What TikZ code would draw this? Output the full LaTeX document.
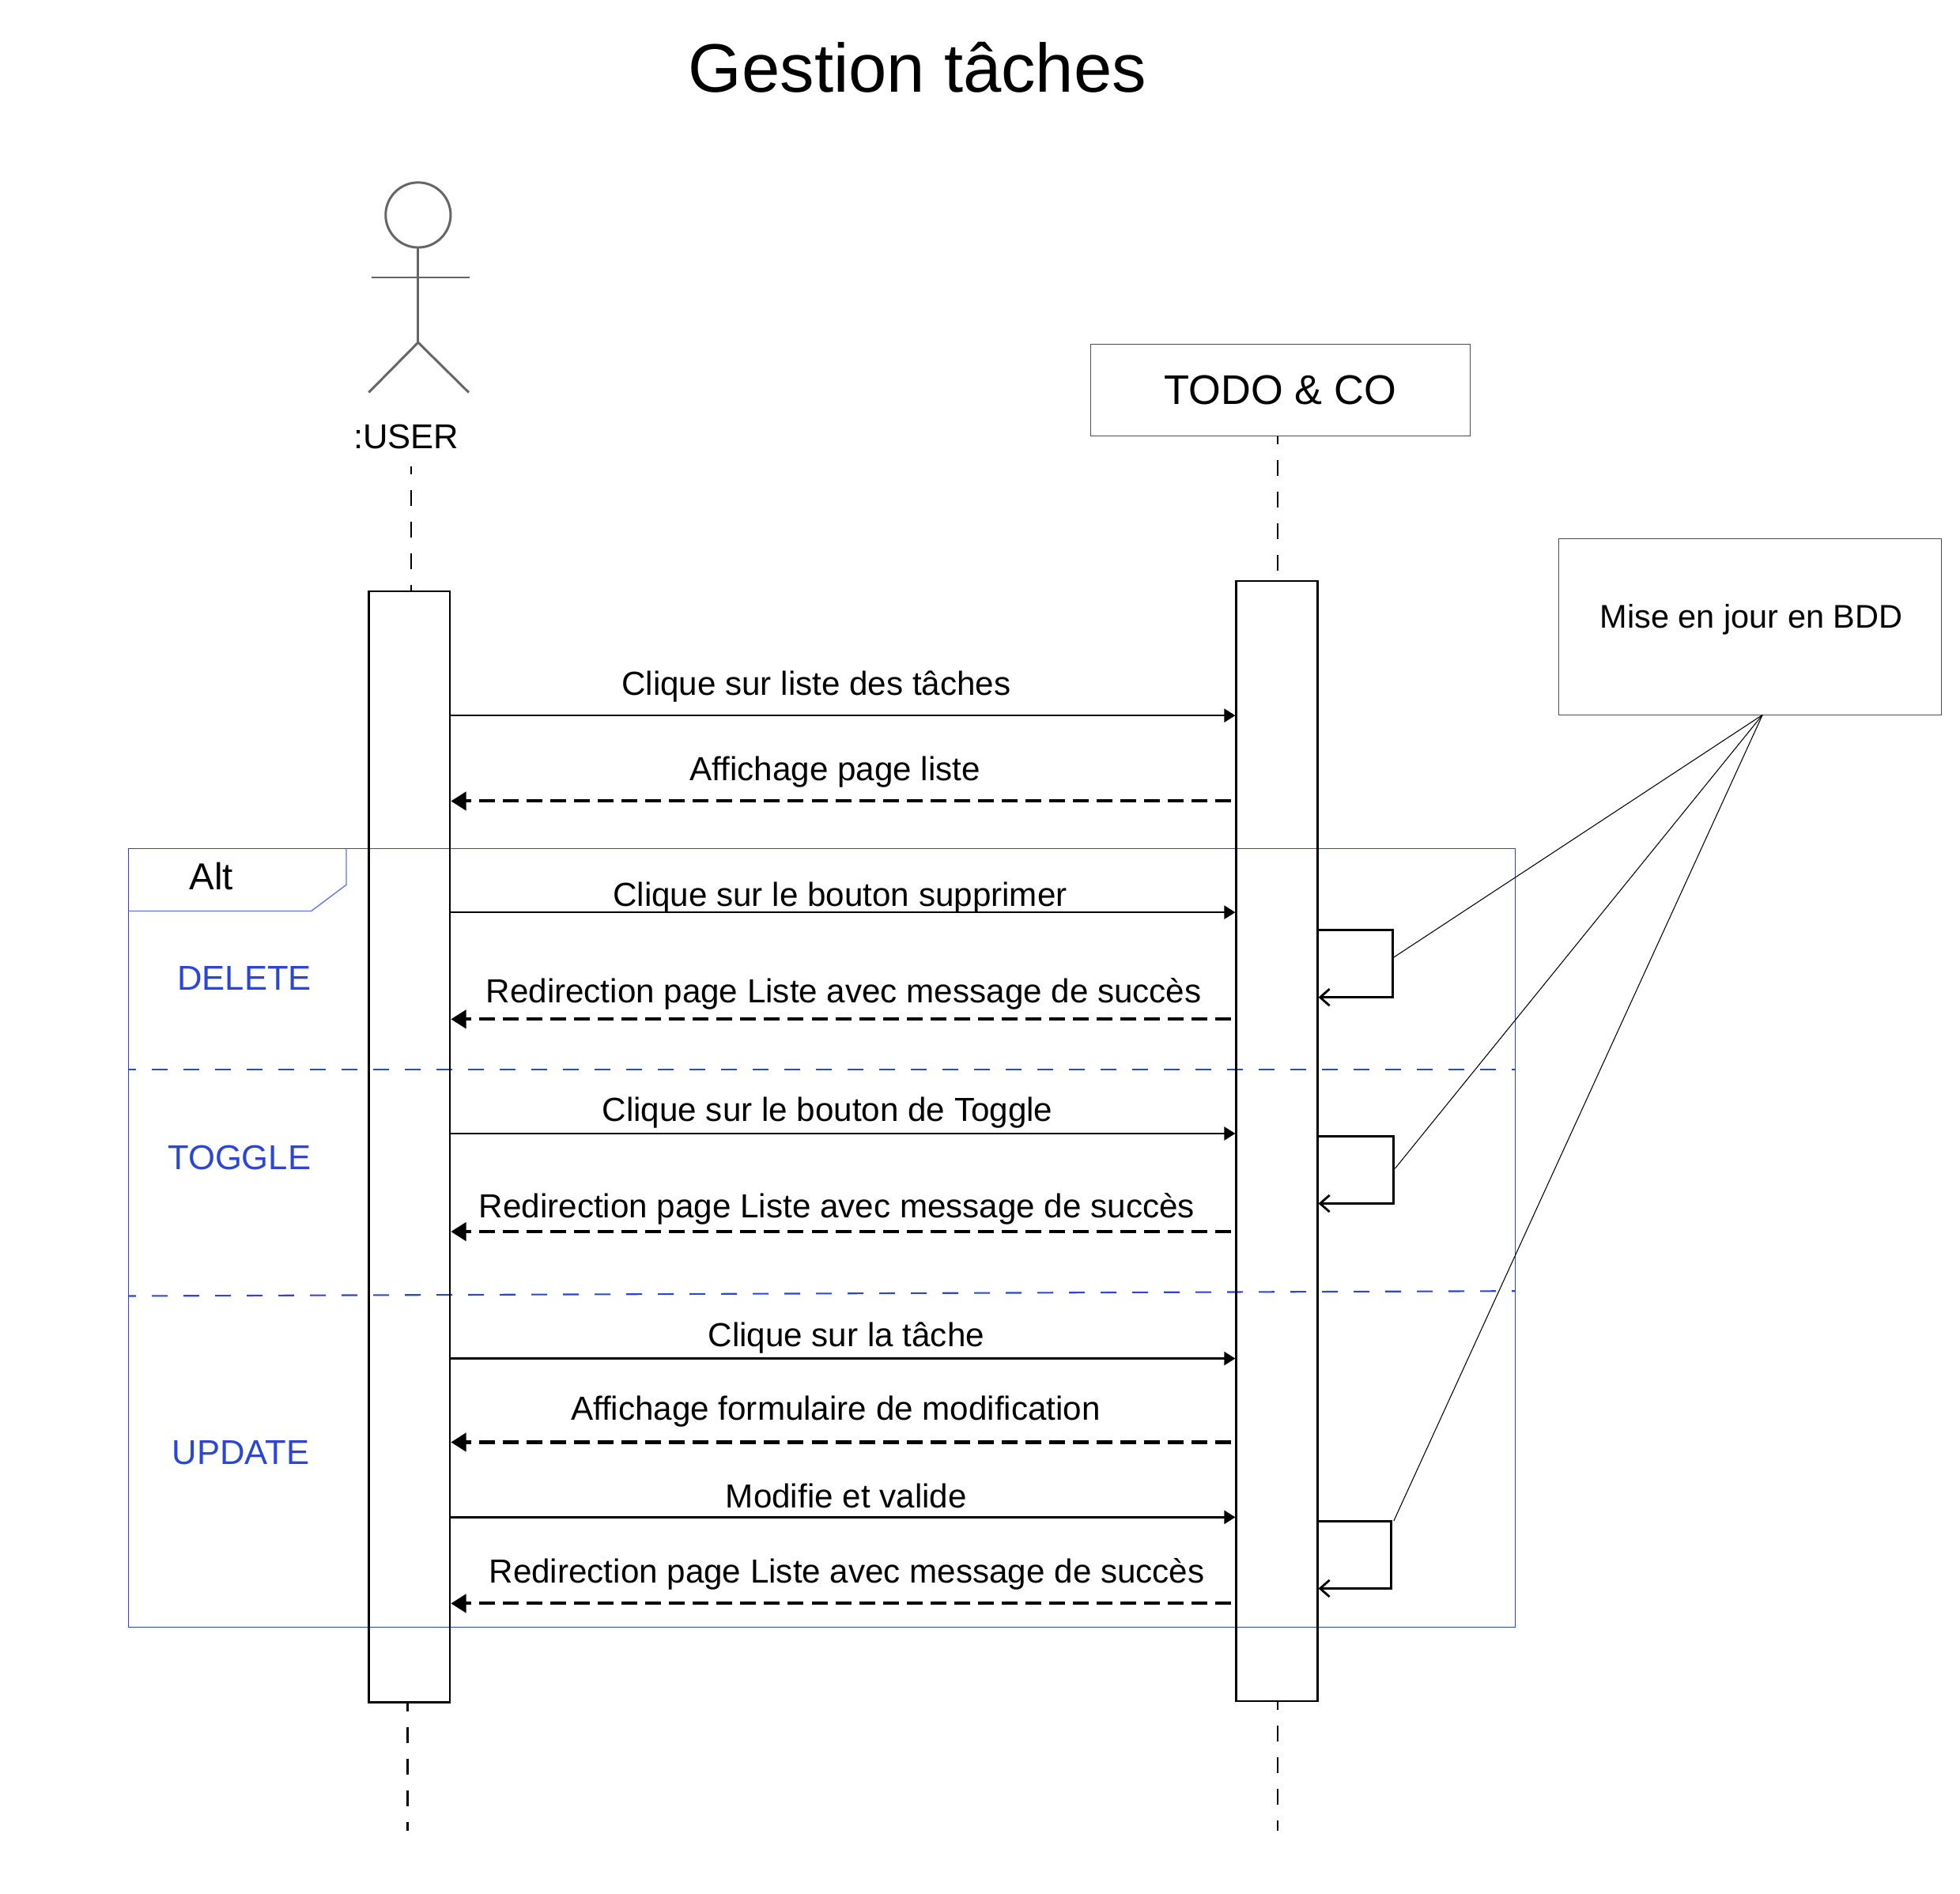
\documentclass[tikz,border=0pt]{standalone}
\usepackage{fontspec}
\setmainfont{Liberation Sans}
\usetikzlibrary{arrows.meta}
\definecolor{altblue}{HTML}{2A45D8}
\tikzset{
  bar/.style={draw=black, line width=0.65pt},
  lifeline/.style={black, line width=0.7pt, dash pattern=on 5.69pt off 5.69pt, dash phase=2.85pt},
  altsep/.style={altblue, line width=0.6pt, dash pattern=on 5.69pt off 5.69pt, dash phase=2.85pt},
  box/.style={draw=black!70, line width=0.4pt},
  msgtext/.style={font=\fontsize{12}{14}\selectfont, inner sep=0pt, yshift=-0.9pt},
  bluetext/.style={font=\fontsize{12.4}{15}\selectfont, text=altblue, inner sep=0pt},
  call/.style={line width=0.75pt, -{Triangle[length=4pt,width=4.8pt]}},
  reply/.style={line width=1.15pt, dash pattern=on 5.69pt off 2.85pt, -{Triangle[length=5.5pt,width=6.6pt]}},
  selfcall/.style={line width=0.8pt, -{Straight Barb[length=3.4pt,width=6pt]}},
  noteline/.style={line width=0.3pt},
  actor/.style={black!60, line width=0.85pt}
}
\begin{document}
\begin{tikzpicture}[x=0.01581cm,y=-0.01581cm]
  \useasboundingbox (0,0) rectangle (1568,1515);

  % Titre
  \node[inner sep=0pt, font=\fontsize{24.7}{28}\selectfont] (title) at (734,54) {Gestion tâches};

  % Acteur
  \draw[actor] (334.5,172) circle (26);
  \draw[actor] (334.5,198) -- (334.5,274);
  \draw[actor] (297,222) -- (376,222);
  \draw[actor] (295,314) -- (334.5,274) -- (375,314);
  \node[msgtext, font=\fontsize{12.4}{15}\selectfont] (user) at (325,347.5) {:USER};

  % Objet et note
  \node[box, minimum width=4.798cm, minimum height=1.162cm, inner sep=0pt, text depth=-0.8pt, font=\fontsize{14.9}{18}\selectfont] (todo) at (1024.25,312.25) {TODO \& CO};
  \node[box, minimum width=4.838cm, minimum height=2.229cm] (note) at (1400,501.5) {};
  \node[msgtext, font=\fontsize{11.8}{14}\selectfont] (notetext) at (1401,494) {Mise en jour en BDD};

  % Cadre Alt
  \node[draw=altblue, line width=0.38pt, minimum width=17.533cm, minimum height=9.85cm, inner sep=0pt] (alt) at (657.5,990.5) {};
  \draw[altblue!75, line width=0.38pt] (alt.north west |- 0,729) -- (249,729) -- (277,708) -- (277,679);
  \node[msgtext, font=\fontsize{13.5}{16}\selectfont] (alttext) at (169,699) {Alt};
  \draw[altsep] (alt.west |- 0,856) -- (alt.east |- 0,856);
  \draw[altsep] (alt.west |- 0,1037) -- (alt.east |- 0,1033);
  \node[bluetext] (delete) at (195.5,783) {DELETE};
  \node[bluetext] (toggle) at (191.5,926.5) {TOGGLE};
  \node[bluetext] (update) at (192.5,1162.5) {UPDATE};

  % Barres d'activation
  \node[bar, minimum width=1.028cm, minimum height=14.055cm, inner sep=0pt] (userbar) at (327.5,917.5) {};
  \node[bar, minimum width=1.028cm, minimum height=14.166cm, inner sep=0pt] (todobar) at (1021.5,913) {};

  % Lignes de vie
  \coordinate (usertop) at (329,373);
  \coordinate (userend) at (326,1465);
  \coordinate (todotop) at (1022,458);
  \coordinate (todoend) at (1022,1465);
  \draw[lifeline] (usertop) -- (usertop |- userbar.north);
  \draw[lifeline] (userend |- userbar.south) -- (userend);
  \draw[lifeline] (todotop |- todo.south) -- (todotop);
  \draw[lifeline] (todoend |- todobar.south) -- (todoend);

  % Messages aller
  \foreach \y/\tx/\ty/\txt in {572.5/653/547.5/Clique sur liste des tâches,
      730/672/716.5/Clique sur le bouton supprimer,
      907/662/888/Clique sur le bouton de Toggle,
      1087/677/1068.5/Clique sur la tâche,
      1214/677/1195/Modifie et valide} {
    \draw[call] (userbar.east |- 0,\y) -- (todobar.west |- 0,\y);
    \node[msgtext] at (\tx,\ty) {\txt};
  }

  % Messages retour
  \foreach \y/\tx/\ty/\txt in {641/668/615.5/Affichage page liste,
      815.5/675/793.5/Redirection page Liste avec message de succès,
      985.5/669.5/965.5/Redirection page Liste avec message de succès,
      1154/668.5/1127.5/Affichage formulaire de modification,
      1283/677.5/1257.5/Redirection page Liste avec message de succès} {
    \draw[reply] ([xshift=-1.6pt]todobar.west |- 0,\y) -- (userbar.east |- 0,\y);
    \node[msgtext] at (\tx,\ty) {\txt};
  }

  % Appels sur soi
  \foreach \a/\b/\c in {744/798/1114, 909/963/1115, 1217/1271/1113} {
    \draw[selfcall] (todobar.east |- 0,\a) -- (\c,\a) -- (\c,\b) -- (todobar.east |- 0,\b);
  }

  % Liens vers la note
  \coordinate (noteanchor) at (1410,572);
  \coordinate (linka) at (1115,766);
  \coordinate (linkb) at (1116,935);
  \coordinate (linkc) at (1115,1217);
  \foreach \link in {linka,linkb,linkc} {
    \draw[noteline] (\link) -- (noteanchor);
  }
\end{tikzpicture}
\end{document}
